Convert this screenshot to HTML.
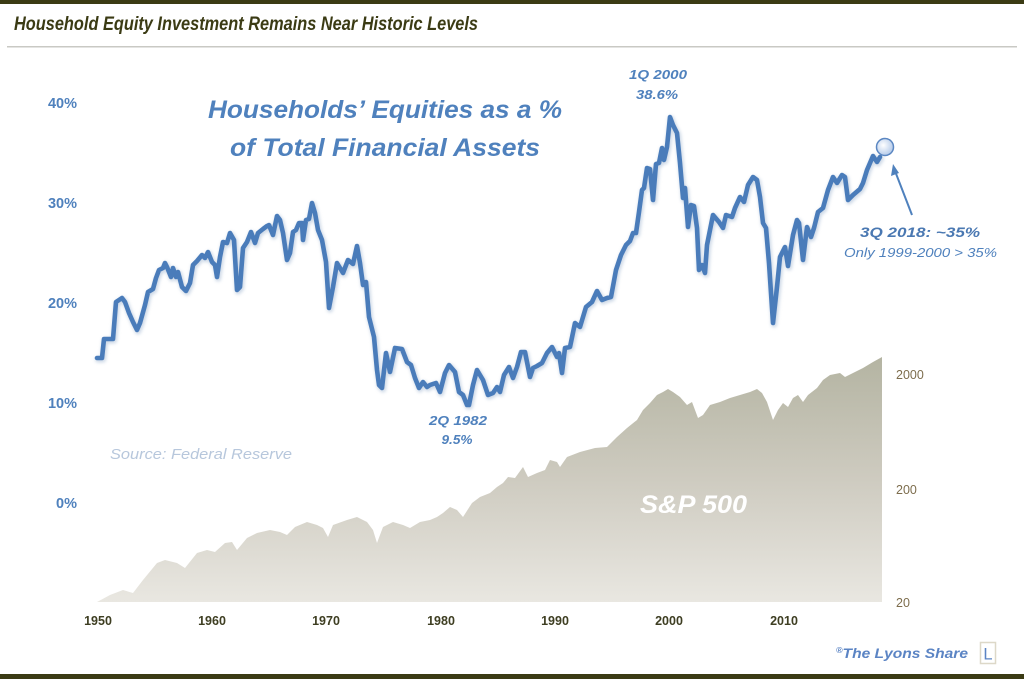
<!DOCTYPE html>
<html><head><meta charset="utf-8"><style>
html,body{margin:0;padding:0;background:#fff;}
svg{display:block;}
</style></head><body>
<svg width="1024" height="679" viewBox="0 0 1024 679" xmlns="http://www.w3.org/2000/svg">
<defs>
<linearGradient id="spg" x1="0" y1="357" x2="0" y2="602" gradientUnits="userSpaceOnUse">
<stop offset="0" stop-color="#b4b4a2"/>
<stop offset="0.5" stop-color="#cecbc0"/>
<stop offset="1" stop-color="#e9e7e1"/>
</linearGradient>
<radialGradient id="cg" cx="0.4" cy="0.4" r="0.7">
<stop offset="0" stop-color="#ffffff"/>
<stop offset="1" stop-color="#a9c2e6"/>
</radialGradient>
<filter id="blur" x="-5%" y="-5%" width="110%" height="110%"><feGaussianBlur stdDeviation="1.5"/></filter>
</defs>
<rect x="0" y="0" width="1024" height="679" fill="#fff"/>
<rect x="0" y="0" width="1024" height="4" fill="#3b3b14"/>
<text x="14" y="30" font-family="Liberation Sans, sans-serif" font-size="19" font-weight="bold" font-style="italic" fill="#3b3b14" textLength="464" lengthAdjust="spacingAndGlyphs">Household Equity Investment Remains Near Historic Levels</text>
<rect x="7" y="46" width="1010" height="1.5" fill="#c9c9c4"/>
<rect x="0" y="674" width="1024" height="5" fill="#3b3b14"/>

<!-- S&P area -->
<polygon fill="url(#spg)" points="97,602 110,595 123,590 133,593 143,580 157,563 165,560 177,563 185,568 197,553 207,550 215,552 225,543 232,542 237,550 247,538 257,533 270,530 280,532 287,535 295,527 307,522 317,525 323,528 328,537 333,525 347,520 357,517 367,522 373,530 377,543 383,527 393,522 403,525 410,528 420,522 430,520 437,517 443,513 450,507 457,510 463,517 472,503 480,497 490,493 497,487 503,483 508,477 515,478 523,467 528,477 537,473 545,470 550,460 557,462 560,467 567,457 580,452 595,448 607,447 617,437 627,428 637,420 643,410 650,403 657,395 663,392 668,389 673,392 680,397 687,405 692,402 698,418 703,415 710,405 720,402 730,398 740,395 750,392 757,389 762,393 767,402 773,420 778,410 783,403 788,407 793,398 798,395 803,402 808,395 817,388 823,380 830,375 840,373 845,377 853,373 863,368 873,362 882,357 882,602"/>
<text x="693.5" y="513" text-anchor="middle" font-family="Liberation Sans, sans-serif" font-size="25" font-weight="bold" font-style="italic" fill="#ffffff" textLength="107" lengthAdjust="spacingAndGlyphs">S&amp;P 500</text>

<!-- Left axis -->
<g font-family="Liberation Sans, sans-serif" font-size="14.5" font-weight="bold" fill="#4f81bd" text-anchor="end">
<text x="77" y="108">40%</text>
<text x="77" y="208">30%</text>
<text x="77" y="308">20%</text>
<text x="77" y="408">10%</text>
<text x="77" y="508">0%</text>
</g>
<!-- Right axis -->
<g font-family="Liberation Sans, sans-serif" font-size="12.5" fill="#7d6d4d">
<text x="896" y="379">2000</text>
<text x="896" y="494">200</text>
<text x="896" y="607">20</text>
</g>
<!-- X axis -->
<g font-family="Liberation Sans, sans-serif" font-size="12.5" font-weight="bold" fill="#3e3e22" text-anchor="middle">
<text x="98" y="625">1950</text>
<text x="212" y="625">1960</text>
<text x="326" y="625">1970</text>
<text x="441" y="625">1980</text>
<text x="555" y="625">1990</text>
<text x="669" y="625">2000</text>
<text x="784" y="625">2010</text>
</g>

<!-- Big title -->
<g font-family="Liberation Sans, sans-serif" font-size="25" font-weight="bold" font-style="italic" fill="#4f81bd">
<text x="208" y="118" textLength="354" lengthAdjust="spacingAndGlyphs">Households’ Equities as a %</text>
<text x="230" y="156" textLength="310" lengthAdjust="spacingAndGlyphs">of Total Financial Assets</text>
</g>
<text x="110" y="459" font-family="Liberation Sans, sans-serif" font-size="15" font-style="italic" fill="#b7c7dc" textLength="182" lengthAdjust="spacingAndGlyphs">Source: Federal Reserve</text>

<!-- Line -->
<polyline fill="none" stroke="#9db3cf" stroke-width="6" stroke-linejoin="round" stroke-linecap="round" opacity="0.5" filter="url(#blur)" transform="translate(1,1.5)" points="97,358 102,358 104,339 113,339 116,302 122,298 125,302 129,313 133,322 137,330 140,323 145,305 148,292 153,289 156,278 159,270 163,268 165,263 167,267 171,277 173,268 176,277 178,272 182,287 186,291 190,283 193,265 197,261 202,255 205,258 208,252 212,262 215,265 217,277 220,257 223,242 227,243 230,233 234,240 237,290 240,287 243,248 247,242 251,232 255,243 258,233 263,229 267,226 269,225 273,235 277,216 280,220 283,233 287,260 290,253 293,232 296,230 299,223 302,223 303,240 306,220 309,219 312,203 315,213 318,230 322,240 326,262 329,308 333,287 337,263 343,273 348,260 353,264 357,246 360,263 363,285 366,282 369,317 374,337 377,370 379,385 382,388 386,353 390,372 395,348 402,349 407,362 411,365 415,378 419,388 423,382 427,387 430,385 436,383 440,392 445,373 449,365 455,372 459,392 463,395 467,405 469,405 473,385 477,370 483,380 488,395 493,393 497,387 500,392 504,375 509,367 513,378 517,367 521,352 525,352 530,377 533,368 537,366 542,363 547,353 552,347 557,357 559,353 562,373 565,348 570,347 575,323 580,327 586,307 592,302 597,291 602,300 607,298 611,297 616,270 621,255 626,245 630,241 633,233 636,233 639,212 642,190 644,188 647,168 650,169 653,200 656,164 659,163 662,148 664,160 667,147 670,117 673,125 677,133 680,163 683,198 685,188 688,227 691,205 694,206 697,228 699,270 702,265 705,273 707,245 713,215 719,222 723,228 726,215 732,217 735,208 740,197 744,202 748,185 753,177 757,180 760,197 763,223 766,228 769,263 773,323 777,287 780,257 785,247 788,266 793,235 797,220 799,223 803,260 807,227 811,237 814,228 818,212 823,208 828,190 833,177 837,183 842,175 845,177 848,200 853,195 860,189 863,183 867,170 873,156 877,162 880,157"/>
<polyline fill="none" stroke="#4a7cba" stroke-width="4.6" stroke-linejoin="round" stroke-linecap="round" points="97,358 102,358 104,339 113,339 116,302 122,298 125,302 129,313 133,322 137,330 140,323 145,305 148,292 153,289 156,278 159,270 163,268 165,263 167,267 171,277 173,268 176,277 178,272 182,287 186,291 190,283 193,265 197,261 202,255 205,258 208,252 212,262 215,265 217,277 220,257 223,242 227,243 230,233 234,240 237,290 240,287 243,248 247,242 251,232 255,243 258,233 263,229 267,226 269,225 273,235 277,216 280,220 283,233 287,260 290,253 293,232 296,230 299,223 302,223 303,240 306,220 309,219 312,203 315,213 318,230 322,240 326,262 329,308 333,287 337,263 343,273 348,260 353,264 357,246 360,263 363,285 366,282 369,317 374,337 377,370 379,385 382,388 386,353 390,372 395,348 402,349 407,362 411,365 415,378 419,388 423,382 427,387 430,385 436,383 440,392 445,373 449,365 455,372 459,392 463,395 467,405 469,405 473,385 477,370 483,380 488,395 493,393 497,387 500,392 504,375 509,367 513,378 517,367 521,352 525,352 530,377 533,368 537,366 542,363 547,353 552,347 557,357 559,353 562,373 565,348 570,347 575,323 580,327 586,307 592,302 597,291 602,300 607,298 611,297 616,270 621,255 626,245 630,241 633,233 636,233 639,212 642,190 644,188 647,168 650,169 653,200 656,164 659,163 662,148 664,160 667,147 670,117 673,125 677,133 680,163 683,198 685,188 688,227 691,205 694,206 697,228 699,270 702,265 705,273 707,245 713,215 719,222 723,228 726,215 732,217 735,208 740,197 744,202 748,185 753,177 757,180 760,197 763,223 766,228 769,263 773,323 777,287 780,257 785,247 788,266 793,235 797,220 799,223 803,260 807,227 811,237 814,228 818,212 823,208 828,190 833,177 837,183 842,175 845,177 848,200 853,195 860,189 863,183 867,170 873,156 877,162 880,157"/>
<circle cx="885" cy="147" r="8.5" fill="url(#cg)" stroke="#5b87c2" stroke-width="1.5"/>

<!-- Annotations -->
<g font-family="Liberation Sans, sans-serif" font-style="italic" fill="#4f81bd">
<text x="658" y="79" text-anchor="middle" font-size="13" font-weight="bold" textLength="58" lengthAdjust="spacingAndGlyphs">1Q 2000</text>
<text x="657" y="99" text-anchor="middle" font-size="13" font-weight="bold" textLength="42" lengthAdjust="spacingAndGlyphs">38.6%</text>
<text x="458" y="425" text-anchor="middle" font-size="13" font-weight="bold" textLength="58" lengthAdjust="spacingAndGlyphs">2Q 1982</text>
<text x="457" y="444" text-anchor="middle" font-size="13" font-weight="bold" textLength="31" lengthAdjust="spacingAndGlyphs">9.5%</text>
<text x="860" y="237" font-size="14" font-weight="bold" fill="#4a78b2" textLength="120" lengthAdjust="spacingAndGlyphs">3Q 2018: ~35%</text>
<text x="844" y="257" font-size="13" textLength="153" lengthAdjust="spacingAndGlyphs">Only 1999-2000 &gt; 35%</text>
</g>
<line x1="912" y1="215" x2="895" y2="171" stroke="#4f81bd" stroke-width="2"/>
<polygon points="893,164 891,176 899,173" fill="#4f81bd"/>

<!-- Footer -->
<text x="836" y="658" font-family="Liberation Sans, sans-serif" font-size="14" font-weight="bold" font-style="italic" fill="#5b84c4" textLength="132" lengthAdjust="spacingAndGlyphs"><tspan font-size="8" dy="-5">®</tspan><tspan dy="5">The Lyons Share</tspan></text>
<rect x="980.5" y="642.5" width="15" height="21" fill="#fff" stroke="#ddd8c8" stroke-width="1.5"/>
<text x="988" y="659.5" text-anchor="middle" font-family="Liberation Sans, sans-serif" font-size="16.5" fill="#5b84c4">L</text>
</svg>
</body></html>
